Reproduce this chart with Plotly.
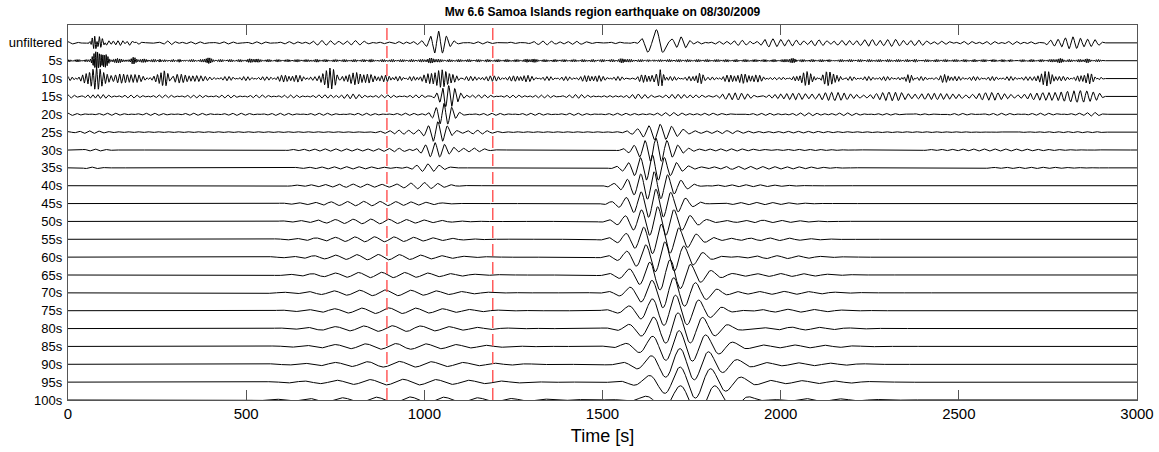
import numpy as np
import plotly.graph_objects as go

# Seismogram record: 0 .. 3000 s, data recorded up to RECORD_END
RECORD_END = 2910
TIME_STEP = 1.0

TRACE_LABELS = ["unfiltered", "5s", "10s", "15s", "20s", "25s", "30s", "35s", "40s",
                "45s", "50s", "55s", "60s", "65s", "70s", "75s", "80s", "85s",
                "90s", "95s", "100s"]

# Wave groups per trace: (centre time [s], envelope width [s], period [s],
# amplitude [trace spacings], optional time of a crest [s])
UNFILTERED = [
    (75, 7, 7, 0.40), (92, 8, 9, -0.28), (140, 35, 13, 0.12),
    (0, 1e6, 23, 0.035), (0, 1e6, 31, 0.03),
    (280, 25, 20, 0.06), (760, 80, 24, 0.08), (950, 35, 21, 0.07),
    (1040, 20, 23, 0.68), (1380, 120, 25, 0.05),
    (1650, 25, 45, 0.72), (1720, 20, 30, 0.30),
    (2150, 330, 21.5, 0.15), (1950, 90, 26, 0.06), (2680, 60, 22, 0.12),
    (2820, 50, 21, 0.33),
]
P5 = [
    (0, 1e6, 5.1, 0.045), (0, 1e6, 6.3, 0.03),
    (78, 8, 5, 0.60), (98, 12, 4.6, 0.30), (150, 40, 5.3, 0.12),
    (183, 6, 5, 0.12), (258, 5, 5, 0.10), (314, 7, 5, 0.10), (393, 6, 5, 0.14),
    (520, 10, 5, 0.06), (690, 10, 5, 0.06), (850, 10, 5, 0.06), (1020, 12, 5, 0.08),
    (1300, 10, 5, 0.05), (1560, 10, 5, 0.07), (1640, 10, 5, 0.08), (2030, 10, 5, 0.07),
    (2140, 10, 5, 0.06), (2380, 10, 5, 0.06), (2650, 12, 5, 0.06), (2780, 10, 5, 0.07),
    (2860, 10, 5, 0.07),
]
P10 = [
    (0, 1e6, 10.5, 0.07), (0, 1e6, 13.3, 0.05),
    (80, 22, 10, 0.62), (155, 30, 11, 0.25), (270, 12, 10, 0.50), (340, 40, 11, 0.25),
    (620, 40, 10, 0.10), (735, 15, 10, 0.55), (800, 30, 10, 0.25), (930, 60, 10, 0.14),
    (1050, 30, 10, 0.35), (1140, 40, 11, 0.15), (1280, 20, 10, 0.10), (1470, 20, 10, 0.10),
    (1620, 25, 10, 0.20), (1662, 8, 10, 0.45), (1772, 10, 10, 0.28), (1900, 60, 10, 0.15),
    (2074, 20, 10, 0.42), (2138, 20, 10, 0.42), (2357, 12, 10, 0.28), (2460, 15, 10, 0.20),
    (2742, 18, 10, 0.33), (2862, 18, 10, 0.33),
]
P15 = [
    (0, 1e6, 16, 0.055), (0, 1e6, 19.5, 0.035),
    (70, 20, 15, 0.16), (783, 40, 16, 0.06), (1068, 22, 17, 0.60),
    (1970, 40, 17, 0.08), (2250, 420, 18, 0.17), (2700, 50, 18, 0.10), (2840, 40, 18, 0.38),
]
P20 = [
    (0, 1e6, 22, 0.04), (0, 1e6, 27, 0.025),
    (1055, 22, 22, 0.55), (1700, 80, 22, 0.07), (2100, 200, 22, 0.10), (2880, 15, 22, 0.08),
]
P25 = [
    (0, 1e6, 28, 0.025),
    (60, 30, 27, 0.06), (930, 50, 27, 0.10), (1038, 25, 27, 0.55), (1150, 30, 27, 0.08),
    (1662, 45, 32, 0.45), (1850, 60, 30, 0.06), (2050, 80, 28, 0.04), (2700, 120, 27, 0.04),
]
P30 = [
    (75, 30, 30, 0.06), (750, 100, 30, 0.07), (930, 50, 30, 0.08), (1030, 35, 27, 0.42),
    (1140, 30, 30, 0.10), (1650, 45, 31, 0.66), (1860, 80, 30, 0.07), (2050, 100, 30, 0.04),
    (2600, 150, 30, 0.06),
]
P35 = [
    (65, 25, 33, 0.05), (780, 100, 35, 0.07), (1010, 35, 32, 0.22), (1640, 50, 34, 0.72),
    (1880, 80, 34, 0.08), (2050, 80, 34, 0.05), (2700, 120, 34, 0.04),
]
P40 = [(800, 120, 40, 0.09), (1000, 50, 38, 0.15), (1642, 58, 38, 0.78, 1645), (1900, 100, 40, 0.06)]
P45 = [(830, 140, 46, 0.12), (1000, 60, 44, 0.07), (1648, 62, 42, 0.80, 1650), (1930, 100, 45, 0.07)]
P50 = [(850, 150, 50, 0.13), (1655, 66, 46, 0.82, 1655), (1950, 110, 50, 0.07)]
P55 = [(860, 155, 55, 0.14), (1662, 70, 50, 0.84, 1665), (1970, 110, 55, 0.07)]
P60 = [(870, 160, 60, 0.15), (1670, 74, 54, 0.85, 1675), (1990, 110, 60, 0.08)]
P65 = [(880, 165, 65, 0.15), (1680, 77, 58, 0.86, 1690), (2000, 120, 65, 0.08)]
P70 = [(890, 170, 72, 0.16), (1690, 80, 62, 0.86, 1700), (2010, 120, 70, 0.08)]
P75 = [(900, 175, 76, 0.16), (1700, 82, 66, 0.87, 1705), (2020, 120, 75, 0.08)]
P80 = [(910, 180, 80, 0.16), (1710, 84, 70, 0.88, 1712), (2030, 130, 80, 0.08)]
P85 = [(920, 185, 85, 0.16), (1720, 86, 76, 0.88, 1715), (2040, 130, 85, 0.08)]
P90 = [(930, 190, 90, 0.16), (1735, 88, 82, 0.90, 1717), (2050, 130, 90, 0.08)]
P95 = [(940, 200, 93, 0.16), (1750, 90, 88, 0.90, 1717), (2060, 140, 93, 0.08)]
P100 = [(960, 240, 95, 0.17), (1768, 85, 100, 0.95, 1717), (2070, 140, 100, 0.08)]

WAVE_GROUPS = [UNFILTERED, P5, P10, P15, P20, P25, P30, P35, P40, P45, P50,
               P55, P60, P65, P70, P75, P80, P85, P90, P95, P100]

# Group-velocity window markers
WINDOW_TIMES = [895, 1192]

TITLE = "Mw 6.6 Samoa Islands region earthquake on 08/30/2009"
X_TICKS = [0, 500, 1000, 1500, 2000, 2500, 3000]

t = np.arange(0, 3000 + TIME_STEP, TIME_STEP)


def build_trace(groups):
    sig = np.zeros_like(t)
    for g in groups:
        tc, width, period, amp = g[:4]
        tref = g[4] if len(g) > 4 else tc
        env = np.exp(-0.5 * ((t - tc) / width) ** 2)
        sig += amp * env * np.cos(2 * np.pi * (t - tref) / period)
    taper = np.clip((RECORD_END - t) / 15.0, 0, 1)
    return sig * taper


n = len(TRACE_LABELS)
offsets = [n - 1 - i for i in range(n)]

fig = go.Figure()
for label, groups, off in zip(TRACE_LABELS, WAVE_GROUPS, offsets):
    fig.add_trace(go.Scatter(
        x=t, y=off + build_trace(groups), mode="lines", name=label,
        line=dict(color="black", width=1), hoverinfo="skip", showlegend=False,
    ))

for tw in WINDOW_TIMES:
    fig.add_shape(type="line", xref="x", yref="y", x0=tw, x1=tw, y0=0, y1=n,
                  line=dict(color="#ff5c5c", width=1.5, dash="12px,6px"))

font_family = "Liberation Sans, Arial, Helvetica, sans-serif"
fig.update_layout(
    width=1159, height=452,
    margin=dict(l=68, r=22, t=25, b=52),
    paper_bgcolor="white", plot_bgcolor="white",
    font=dict(family=font_family, color="black"),
    title=dict(text="<b>" + TITLE + "</b>", font=dict(size=12),
               x=0.5, xref="paper", xanchor="center",
               y=1 - 12 / 452, yref="container", yanchor="middle"),
)
fig.update_xaxes(
    range=[0, 3000], tickvals=X_TICKS, ticktext=[str(v) for v in X_TICKS],
    ticks="inside", ticklen=10, tickcolor="#555", tickwidth=1,
    showline=True, linecolor="#555", linewidth=1.2, mirror="ticks",
    showgrid=False, zeroline=False, tickfont=dict(size=15),
    title=dict(text="Time [s]", font=dict(size=18), standoff=8), automargin=False,
)
fig.update_yaxes(
    range=[0, n], tickvals=offsets, ticktext=TRACE_LABELS,
    ticks="", showline=True, linecolor="#555", linewidth=1.2, mirror=True,
    showgrid=False, zeroline=False, tickfont=dict(size=13), ticklabelstandoff=2,
    automargin=False,
)

fig.write_html("out.html")
